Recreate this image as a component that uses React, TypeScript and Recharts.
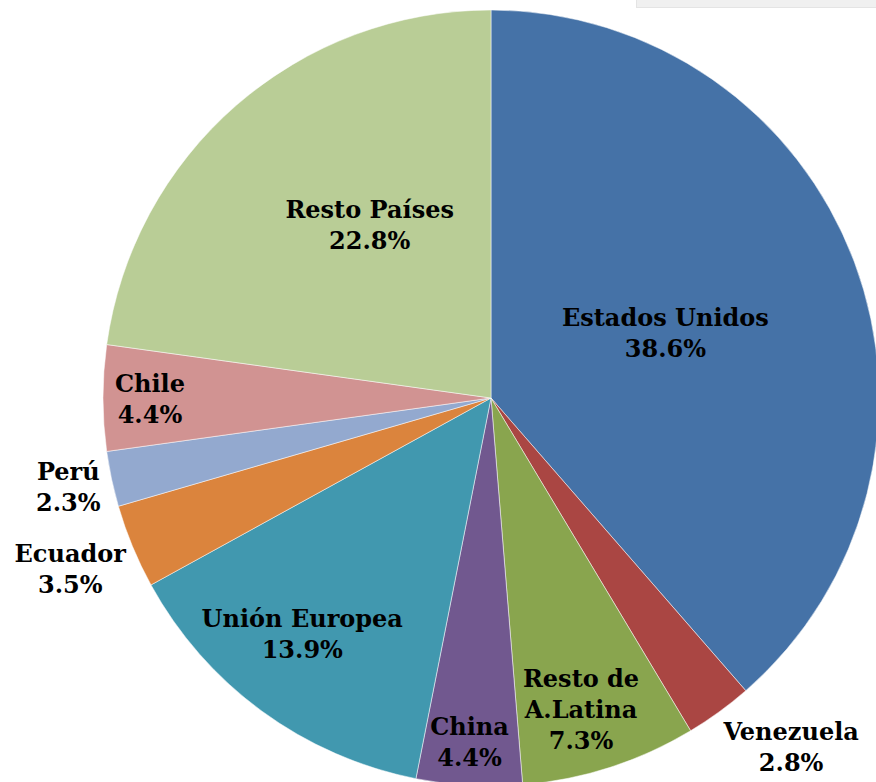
import React from "react";
import { PieChart, Pie, Cell } from "recharts";

const countries = [
  "Estados Unidos",
  "Venezuela",
  "Resto de A.Latina",
  "China",
  "Unión Europea",
  "Ecuador",
  "Perú",
  "Chile",
  "Resto Países",
];
const shares = [38.6, 2.8, 7.3, 4.4, 13.9, 3.5, 2.3, 4.4, 22.8];
const colors = [
  "#4572A7",
  "#AA4643",
  "#89A54E",
  "#71588F",
  "#4198AF",
  "#DB843D",
  "#93A9CF",
  "#D19392",
  "#B9CD96",
];

const data = countries.map((name, i) => ({ name, value: shares[i] }));

// label placement: radius as fraction of outer radius + small nudges
const labelPos: Record<string, { rf: number; dx: number; dy: number; lines?: string[] }> = {
  "Estados Unidos": { rf: 0.48, dx: 0, dy: 0 },
  Venezuela: { rf: 1.18, dx: 31, dy: -22 },
  "Resto de A.Latina": { rf: 0.834, dx: -9, dy: 3, lines: ["Resto de", "A.Latina"] },
  China: { rf: 0.888, dx: -2, dy: 0 },
  "Unión Europea": { rf: 0.776, dx: -11, dy: -8 },
  Ecuador: { rf: 1.171, dx: -1, dy: -3 },
  "Perú": { rf: 1.114, dx: 0, dy: -2 },
  Chile: { rf: 0.879, dx: 0, dy: 0 },
  "Resto Países": { rf: 0.543, dx: 17, dy: -15 },
};

const RAD = Math.PI / 180;
const LINE_H = 31;

function renderLabel(props: any) {
  const { cx, cy, midAngle, outerRadius, name, value } = props;
  const p = labelPos[name];
  const r = outerRadius * p.rf;
  const x = cx + r * Math.cos(-midAngle * RAD) + p.dx;
  const y = cy + r * Math.sin(-midAngle * RAD) + p.dy;
  const lines = [...(p.lines ?? [name]), `${value.toFixed(1)}%`];
  const top = y - ((lines.length - 1) * LINE_H) / 2;
  return (
    <text
      x={x}
      y={top}
      textAnchor="middle"
      dominantBaseline="central"
      fill="#000"
      fontFamily="'DejaVu Serif', serif"
      fontWeight="bold"
      fontSize={24}
    >
      {lines.map((l, i) => (
        <tspan key={i} x={x} y={top + i * LINE_H}>
          {l}
        </tspan>
      ))}
    </text>
  );
}

export default function App() {
  return (
    <div style={{ position: "fixed", left: 0, top: 0, width: 876, height: 782, background: "#fff" }}>
      <div
        style={{
          position: "absolute",
          left: 636,
          top: -4,
          width: 250,
          height: 10,
          background: "#f0f0f0",
          border: "1px solid #e4e4e4",
        }}
      />
      <PieChart
        width={876}
        height={782}
        margin={{ top: 0, right: 0, bottom: 0, left: 0 }}
        style={{ position: "absolute", left: 0, top: 0 }}
      >
        <Pie
          data={data}
          dataKey="value"
          nameKey="name"
          cx={491}
          cy={398}
          outerRadius={388}
          startAngle={90}
          endAngle={-270}
          stroke="#fff"
          strokeWidth={0.5}
          label={renderLabel}
          labelLine={false}
          isAnimationActive={false}
        >
          {data.map((d, i) => (
            <Cell key={d.name} fill={colors[i]} />
          ))}
        </Pie>
      </PieChart>
    </div>
  );
}
